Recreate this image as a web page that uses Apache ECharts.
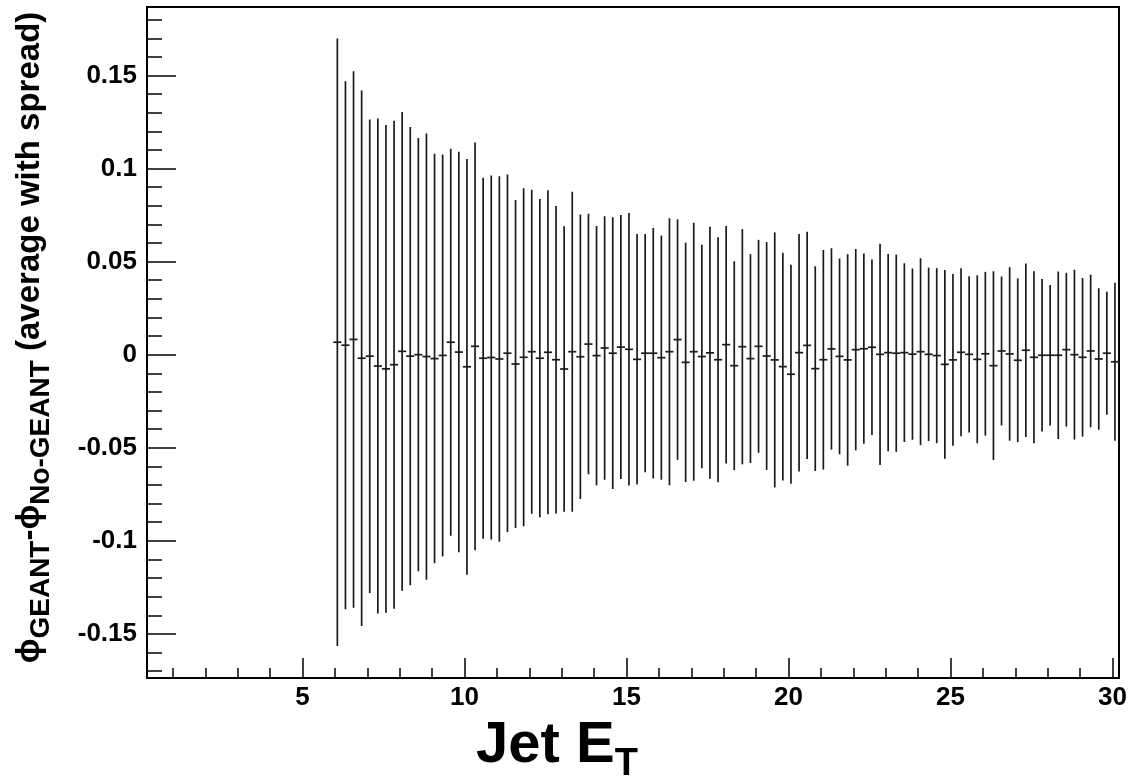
<!DOCTYPE html>
<html>
<head>
<meta charset="utf-8">
<script src="https://cdn.jsdelivr.net/npm/echarts@6/dist/echarts.min.js"></script>
</head>
<body style="margin:0;background:#fff">
<div id="main" style="width:1137px;height:778px;"></div>
<script>
    // profile: bin centres in jet ET, mean of dphi and its spread (rms)
    var etBins = [
        6.075, 6.325, 6.575, 6.825, 7.075, 7.325, 7.575, 7.825,
        8.075, 8.325, 8.575, 8.825, 9.075, 9.325, 9.575, 9.825,
        10.075, 10.325, 10.575, 10.825, 11.075, 11.325, 11.575, 11.825,
        12.075, 12.325, 12.575, 12.825, 13.075, 13.325, 13.575, 13.825,
        14.075, 14.325, 14.575, 14.825, 15.075, 15.325, 15.575, 15.825,
        16.075, 16.325, 16.575, 16.825, 17.075, 17.325, 17.575, 17.825,
        18.075, 18.325, 18.575, 18.825, 19.075, 19.325, 19.575, 19.825,
        20.075, 20.325, 20.575, 20.825, 21.075, 21.325, 21.575, 21.825,
        22.075, 22.325, 22.575, 22.825, 23.075, 23.325, 23.575, 23.825,
        24.075, 24.325, 24.575, 24.825, 25.075, 25.325, 25.575, 25.825,
        26.075, 26.325, 26.575, 26.825, 27.075, 27.325, 27.575, 27.825,
        28.075, 28.325, 28.575, 28.825, 29.075, 29.325, 29.575, 29.825,
        30.075
    ];
    var meanDphi = [
        0.0067, 0.0051, 0.0082, -0.0019, -0.0008, -0.0061, -0.0076, -0.0054, 0.0018, -0.0008,
        0.0000, -0.0010, -0.0021, -0.0004, 0.0067, 0.0014, -0.0065, 0.0045, -0.0019, -0.0015,
        -0.0023, 0.0008, -0.0050, -0.0014, 0.0016, -0.0019, 0.0013, -0.0027, -0.0077, 0.0016,
        -0.0011, 0.0057, -0.0005, 0.0036, 0.0008, 0.0041, 0.0029, -0.0025, 0.0008, 0.0008,
        -0.0016, 0.0016, 0.0081, -0.0041, 0.0016, -0.0010, 0.0010, -0.0027, 0.0054, -0.0059,
        0.0043, -0.0021, 0.0045, -0.0007, -0.0028, -0.0064, -0.0105, 0.0011, 0.0050, -0.0075,
        -0.0027, 0.0031, -0.0009, -0.0028, 0.0027, 0.0032, 0.0040, 0.0002, 0.0011, 0.0008,
        0.0011, 0.0003, 0.0016, 0.0002, -0.0005, -0.0052, -0.0028, 0.0013, 0.0002, -0.0025,
        0.0005, -0.0059, 0.0020, 0.0004, -0.0030, 0.0024, -0.0014, -0.0003, -0.0003, -0.0003,
        0.0027, 0.0000, -0.0014, 0.0020, -0.0023, 0.0008, -0.0038
    ];
    var spreadDphi = [
        0.1632, 0.1418, 0.1441, 0.1439, 0.1272, 0.1330, 0.1310, 0.1311, 0.1286, 0.1231,
        0.1164, 0.1199, 0.1100, 0.1080, 0.1040, 0.1076, 0.1117, 0.1095, 0.0970, 0.0978,
        0.0982, 0.0960, 0.0881, 0.0908, 0.0870, 0.0855, 0.0870, 0.0826, 0.0767, 0.0860,
        0.0764, 0.0700, 0.0697, 0.0708, 0.0730, 0.0709, 0.0732, 0.0673, 0.0640, 0.0673,
        0.0656, 0.0717, 0.0646, 0.0643, 0.0693, 0.0600, 0.0677, 0.0658, 0.0638, 0.0561,
        0.0632, 0.0561, 0.0572, 0.0612, 0.0685, 0.0612, 0.0588, 0.0638, 0.0610, 0.0550,
        0.0590, 0.0541, 0.0526, 0.0568, 0.0541, 0.0511, 0.0472, 0.0594, 0.0530, 0.0530,
        0.0480, 0.0460, 0.0502, 0.0466, 0.0470, 0.0507, 0.0461, 0.0451, 0.0420, 0.0451,
        0.0440, 0.0507, 0.0400, 0.0466, 0.0440, 0.0466, 0.0462, 0.0410, 0.0378, 0.0450,
        0.0413, 0.0456, 0.0426, 0.0410, 0.0380, 0.0330, 0.0425
    ];
    var binHalfWidth = 0.125;

    var xMajor = [5, 10, 15, 20, 25, 30];
    var xMinor = [1, 2, 3, 4, 6, 7, 8, 9, 11, 12, 13, 14, 16, 17, 18, 19, 21, 22, 23, 24, 26, 27, 28, 29];
    var yMajor = [-0.15, -0.1, -0.05, 0, 0.05, 0.1, 0.15];
    var yMinor = [-0.17, -0.16, -0.14, -0.13, -0.12, -0.11, -0.09, -0.08, -0.07, -0.06,
        -0.04, -0.03, -0.02, -0.01, 0.01, 0.02, 0.03, 0.04, 0.06, 0.07, 0.08, 0.09,
        0.11, 0.12, 0.13, 0.14, 0.16, 0.17, 0.18];

    var xMin = 0.2, xMax = 30.2;
    var yMin = -0.1737, yMax = 0.1868;

    var font = 'Liberation Sans';
    var points = etBins.map(function (x, i) { return [x, meanDphi[i], spreadDphi[i]]; });

    var chartDom = document.getElementById('main');
    var myChart = echarts.init(chartDom);
    var option;

    option = {
        animation: false,
        backgroundColor: '#fff',
        grid: {
            left: 147, top: 7, right: 18, bottom: 100,
            show: true, borderColor: '#000', borderWidth: 2,
            outerBoundsMode: 'none'
        },
        xAxis: [
            {
                type: 'value', min: xMin, max: xMax, position: 'bottom',
                axisLine: { show: false, onZero: false },
                splitLine: { show: false },
                axisTick: { inside: true, length: 20, customValues: xMajor, lineStyle: { color: '#000', width: 1.5 } },
                axisLabel: { customValues: xMajor, fontSize: 26, fontWeight: 'bold', fontFamily: font, color: '#000', margin: 7 },
                name: '{a|Jet E}{b|T}',
                nameLocation: 'middle',
                nameGap: 30,
                nameTextStyle: {
                    padding: [0, 152, 0, 0],
                    rich: {
                        a: { fontSize: 58, fontWeight: 'bold', fontFamily: font, color: '#000', lineHeight: 76, verticalAlign: 'middle' },
                        b: { fontSize: 38, fontWeight: 'bold', fontFamily: font, color: '#000', lineHeight: 38, verticalAlign: 'bottom' }
                    }
                }
            },
            {
                type: 'value', min: xMin, max: xMax, position: 'bottom',
                axisLine: { show: false, onZero: false },
                splitLine: { show: false },
                axisLabel: { show: false },
                axisTick: { inside: true, length: 10, customValues: xMinor, lineStyle: { color: '#000', width: 1.5 } }
            }
        ],
        yAxis: [
            {
                type: 'value', min: yMin, max: yMax, position: 'left',
                axisLine: { show: false, onZero: false },
                splitLine: { show: false },
                axisTick: { inside: true, length: 29, customValues: yMajor, lineStyle: { color: '#000', width: 1.5 } },
                axisLabel: { customValues: yMajor, fontSize: 26, fontWeight: 'bold', fontFamily: font, color: '#000', margin: 10 },
                name: '{p|\u03d5}{s|GEANT}{p|-\u03d5}{s|No-GEANT}{p| (average with spread)}',
                nameLocation: 'middle',
                nameRotate: 90,
                nameGap: 92,
                nameTextStyle: {
                    padding: [0, 0, 0, 10],
                    rich: {
                        p: { fontSize: 33, fontWeight: 'bold', fontFamily: font, color: '#000', lineHeight: 50, verticalAlign: 'middle' },
                        s: { fontSize: 28, fontWeight: 'bold', fontFamily: font, color: '#000', lineHeight: 28, verticalAlign: 'bottom' }
                    }
                }
            },
            {
                type: 'value', min: yMin, max: yMax, position: 'left',
                axisLine: { show: false, onZero: false },
                splitLine: { show: false },
                axisLabel: { show: false },
                axisTick: { inside: true, length: 15, customValues: yMinor, lineStyle: { color: '#000', width: 1.5 } }
            }
        ],
        series: [
            {
                type: 'custom',
                xAxisIndex: 0,
                yAxisIndex: 0,
                encode: { x: 0, y: 1 },
                data: points,
                renderItem: function (params, api) {
                    var x = api.value(0), m = api.value(1), s = api.value(2);
                    var top = api.coord([x, m + s]);
                    var bot = api.coord([x, m - s]);
                    var l = api.coord([x - binHalfWidth, m]);
                    var r = api.coord([x + binHalfWidth, m]);
                    var st = { stroke: '#1a1a1a', lineWidth: 1.7 };
                    return {
                        type: 'group',
                        children: [
                            { type: 'line', shape: { x1: top[0], y1: top[1], x2: bot[0], y2: bot[1] }, style: st },
                            { type: 'line', shape: { x1: l[0], y1: l[1], x2: r[0], y2: r[1] }, style: st }
                        ]
                    };
                }
            }
        ]
    };

    option && myChart.setOption(option);
</script>
</body>
</html>
